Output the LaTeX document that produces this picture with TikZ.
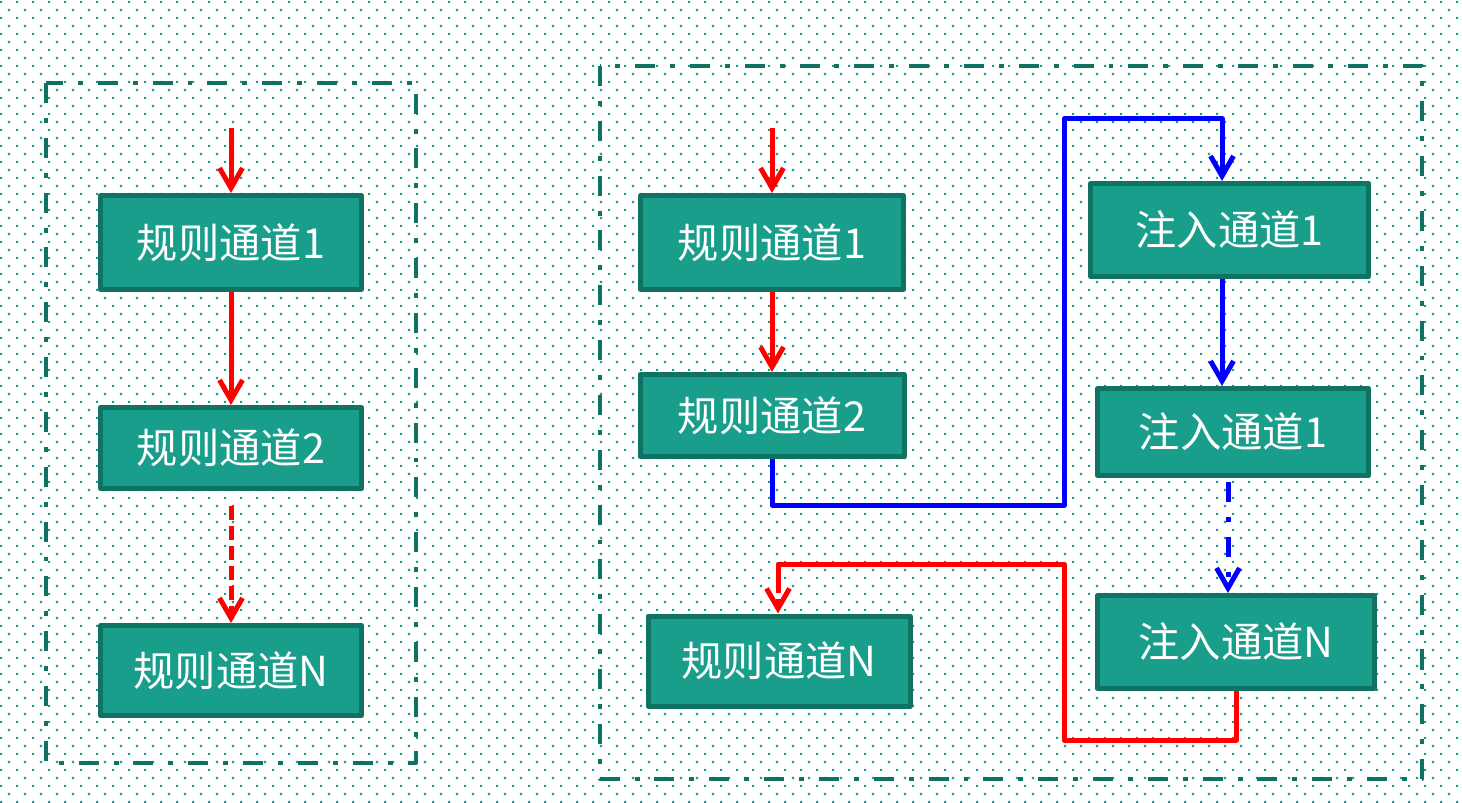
\documentclass[tikz,border=0pt]{standalone}
\usepackage{fontspec}
\newfontfamily\cjk{Noto Sans CJK SC}
\usetikzlibrary{arrows.meta,patterns}
\definecolor{tealfill}{HTML}{1A9E8C}
\definecolor{tealline}{HTML}{107262}
\pgfdeclarepatternformonly{tealdots}{\pgfpointorigin}{\pgfqpoint{9.1pt}{9.1pt}}{\pgfqpoint{9.1pt}{9.1pt}}{%
	\pgfpathrectangle{\pgfqpoint{0pt}{0pt}}{\pgfqpoint{1.15pt}{1.15pt}}%
	\pgfpathrectangle{\pgfqpoint{4.55pt}{4.55pt}}{\pgfqpoint{1.15pt}{1.15pt}}%
	\pgfusepath{fill}}
\begin{document}
\begin{tikzpicture}[x=0.02cm,y=-0.02cm,line join=round,>={Straight Barb[length=4mm,width=4.6mm]}]
	\tikzset{box/.style 2 args={draw=tealline,fill=tealfill,line width=0.1cm,text=white,inner sep=0pt,
			font=\cjk\fontsize{23.5}{27}\selectfont,minimum width=#1*0.02cm,minimum height=#2*0.02cm},
		frame/.style={tealline,line width=0.08cm,dash pattern=on 11.4pt off 8.5pt on 2.8pt off 8.5pt},
		redline/.style={red,line width=0.1cm},
		blueline/.style={blue,line width=0.1cm},
		dashline/.style={dash pattern=on 8pt off 3.4pt},
		dotline/.style={dash pattern=on 11.4pt off 8.5pt on 2.8pt off 8.5pt}}
	\useasboundingbox (0,0) rectangle (1462,803);
	\fill[white] (0,0) rectangle (1462,803);
	\fill[pattern=tealdots,pattern color=tealfill] (0,0) rectangle (1462,803);
	% frames
	\draw[frame] (46,83) rectangle (416,763);
	\draw[frame] (600,66) rectangle (1422,779);
	% left column
	\node[box={261}{94}] (l1) at (231,242.5) {规则通道1};
	\node[box={261}{81}] (l2) at (231,448) {规则通道2};
	\node[box={261}{90}] (l3) at (231,670.5) {规则通道N};
	\coordinate (lin) at (231,128);
	\draw[redline,->] (lin) -- (l1);
	\draw[redline,->] (l1) -- (l2);
	\draw[redline,dashline,->,shorten <=0.3cm] (l2) -- (l3);
	% right part
	\node[box={263}{94}] (r1) at (772,242.5) {规则通道1};
	\node[box={264}{82}] (r2) at (772,415.5) {规则通道2};
	\node[box={262}{90}] (r3) at (779,661) {规则通道N};
	\node[box={278}{93}] (i1) at (1229.5,230) {注入通道1};
	\node[box={271}{87}] (i2) at (1233,432) {注入通道1};
	\node[box={277}{93}] (i3) at (1236,642) {注入通道N};
	\coordinate (rin) at (772,128);
	\draw[redline,->] (rin) -- (r1);
	\draw[redline,->] (r1) -- (r2);
	\coordinate (b1) at (1064,505); \coordinate (b2) at (1064,119);
	\coordinate (b3) at (1222,119); \coordinate (b4) at (1228,482);
	\draw[blueline,->] (r2) |- (b1) -- (b2) -- (b3) -- (b3 |- i1.north);
	\draw[blueline,->] (i1.south -| b3) -- (b3 |- i2.north);
	\draw[blueline,dotline,->] (b4) -- (b4 |- i3.north);
	\coordinate (c1) at (1064,740); \coordinate (c2) at (1064,564);
	\coordinate (c3) at (778,564); \coordinate (c4) at (778,579);
	\draw[redline] (i3) |- (c1) -- (c2) -- (c3) -- (c4);
	\draw[redline,dashline,->] (c4) -- (c4 |- r3.north);
\end{tikzpicture}
\end{document}
